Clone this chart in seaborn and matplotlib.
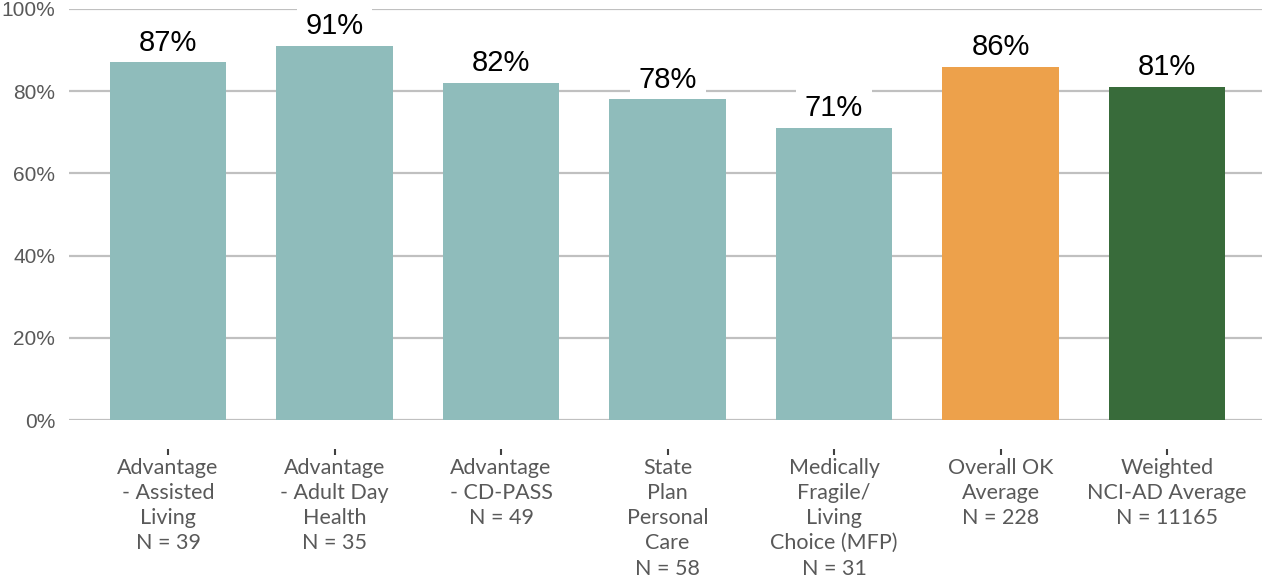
import matplotlib
matplotlib.use("Agg")
import matplotlib.pyplot as plt
import seaborn as sns
import pandas as pd

categories = [
    "Advantage\n- Assisted\nLiving\nN = 39",
    "Advantage\n- Adult Day\nHealth\nN = 35",
    "Advantage\n- CD-PASS\nN = 49",
    "State\nPlan\nPersonal\nCare\nN = 58",
    "Medically\nFragile/\nLiving\nChoice (MFP)\nN = 31",
    "Overall OK\nAverage\nN = 228",
    "Weighted\nNCI-AD Average\nN = 11165",
]
values = [87, 91, 82, 78, 71, 86, 81]
labels = ["87%", "91%", "82%", "78%", "71%", "86%", "81%"]
colors = ["#8FBCBB", "#8FBCBB", "#8FBCBB", "#8FBCBB", "#8FBCBB", "#EDA14B", "#386B3A"]
yticks = [0, 20, 40, 60, 80, 100]
ytick_labels = ["0%", "20%", "40%", "60%", "80%", "100%"]

df = pd.DataFrame({"cat": categories, "val": values})

sns.set_theme(style="white")
fig = plt.figure(figsize=(12.64, 5.79), dpi=100)
ax = fig.add_axes([69 / 1264, 1 - 420 / 579, (1262 - 69) / 1264, (420 - 9) / 579])

sns.barplot(data=df, x="cat", y="val", hue="cat", palette=colors, order=categories,
            hue_order=categories, width=0.70, legend=False, ax=ax, saturation=1,
            linewidth=0, edgecolor="none", zorder=3)

ax.set_ylim(0, 100)
ax.set_xlim(-0.595, 6.57)
ax.set_yticks(yticks)
ax.set_yticklabels(ytick_labels, family="Liberation Sans", fontsize=15, color="#595959")
ax.yaxis.grid(True, color="#C0C0C0", linewidth=1.6, zorder=0)
ax.set_axisbelow(True)
for s in ["top", "right", "left"]:
    ax.spines[s].set_visible(False)
ax.spines["bottom"].set_position(("outward", 21))
ax.spines["bottom"].set_color("none")
ax.tick_params(axis="y", length=0, pad=10)
ax.tick_params(axis="x", length=4.5, width=1.5, color="#404040", direction="out", pad=1.5, bottom=True)
ax.set_xticks(range(len(categories)))
ax.set_xticklabels(categories, family="Lato", fontsize=15.5, color="#595959", linespacing=1.33, va="top")
ax.set_xlabel("")
ax.set_ylabel("")

for i, (v, lab) in enumerate(zip(values, labels)):
    ax.annotate(lab, (i, v), xytext=(0, 8.5), textcoords="offset points", ha="center", va="baseline",
                family="Liberation Sans", fontsize=21, color="black", zorder=2,
                bbox=dict(boxstyle="square,pad=0.3", fc="white", ec="none"))

fig.savefig("out.png", dpi=100)
